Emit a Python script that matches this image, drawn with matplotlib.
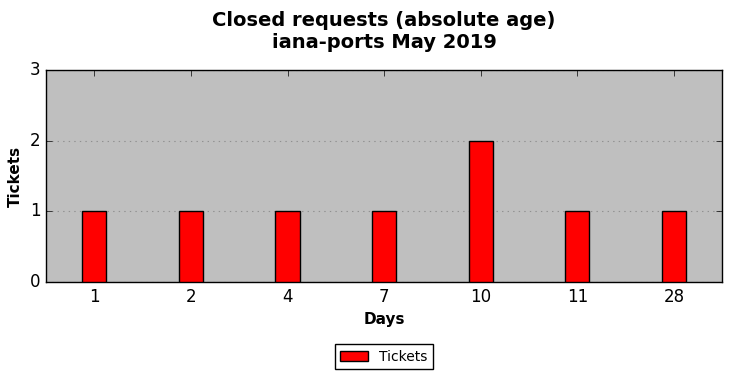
import matplotlib
matplotlib.use('Agg')
import matplotlib.pyplot as plt
import numpy as np

days = ['1', '2', '4', '7', '10', '11', '28']
tickets = [1, 1, 1, 1, 2, 1, 1]

plt.style.use('classic')
fig = plt.figure(figsize=(7.31, 3.78), dpi=100)
ax = fig.add_axes([0.063, 0.254, 0.925, 0.561])
ax.set_facecolor('#bfbfbf')

x = np.arange(len(days))
ax.bar(x, tickets, width=0.25, color='red', edgecolor='black', linewidth=1,
       align='center', label='Tickets', zorder=3)
ax.set_xlim(-0.5, len(days) - 0.5)
ax.set_ylim(0, 3)
ax.set_yticks([0, 1, 2, 3])
ax.set_xticks(x)
ax.set_xticklabels(days)
ax.tick_params(labelsize=12)
ax.yaxis.grid(True, linestyle=':', color='#909090', linewidth=0.8, zorder=0)
ax.set_axisbelow(True)

ax.set_xlabel('Days', fontsize=11, fontweight='bold')
ax.set_ylabel('Tickets', fontsize=11, fontweight='bold')
fig.suptitle('Closed requests (absolute age)\niana-ports May 2019',
             fontsize=14, fontweight='bold', x=0.5255, y=0.972)

leg = fig.legend(loc='lower center', bbox_to_anchor=(0.525, 0.005), fontsize=10,
                 fancybox=False, frameon=True)
leg.get_frame().set_edgecolor('black')

fig.savefig('out.png', dpi=100, facecolor='white')
